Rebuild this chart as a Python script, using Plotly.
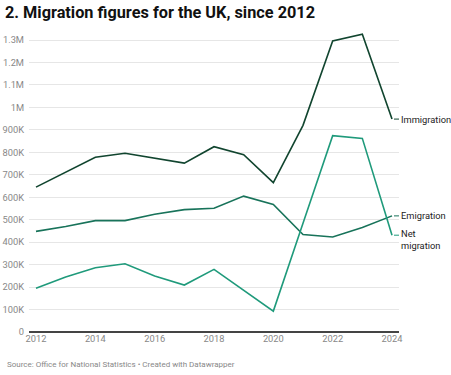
import plotly.graph_objects as go

years = list(range(2012, 2025))
immigration = [645000, 712000, 778000, 796000, 773000, 752000, 825000, 789000, 665000, 920000, 1296000, 1326000, 948000]
emigration = [448000, 470000, 496000, 496000, 524000, 545000, 551000, 605000, 568000, 434000, 423000, 465000, 517000]
net_migration = [195000, 245000, 286000, 304000, 249000, 209000, 279000, 184000, 93000, 484000, 874000, 862000, 431000]

y_tickvals = [i * 100000 for i in range(14)]
y_ticktext = ["0", "100K", "200K", "300K", "400K", "500K", "600K", "700K", "800K", "900K", "1M", "1.1M", "1.2M", "1.3M"]
x_tickvals = [2012, 2014, 2016, 2018, 2020, 2022, 2024]

c_imm = "#11452f"
c_emi = "#18735a"
c_net = "#1f9a7b"

fig = go.Figure()
fig.add_trace(go.Scatter(x=years, y=immigration, mode="lines", line=dict(color=c_imm, width=1.6), name="Immigration"))
fig.add_trace(go.Scatter(x=years, y=emigration, mode="lines", line=dict(color=c_emi, width=1.6), name="Emigration"))
fig.add_trace(go.Scatter(x=years, y=net_migration, mode="lines", line=dict(color=c_net, width=1.6), name="Net migration"))

font = "Roboto"
lab = dict(size=9.3, color="#222222")
leader = dict(showarrow=True, arrowhead=0, arrowwidth=1, standoff=2, ay=0)
fig.update_layout(
    width=451, height=375,
    margin=dict(l=29, r=52, t=30, b=43),
    paper_bgcolor="white", plot_bgcolor="white",
    showlegend=False,
    font=dict(family=font, size=9, color="#888888"),
    title=dict(text="<b>2. Migration figures for the UK, since 2012</b>", x=0.011, xanchor="left",
               y=0.968, yanchor="middle", font=dict(family=font, size=16.3, color="#111111")),
    xaxis=dict(range=[2011.764, 2024.236], tickvals=x_tickvals, ticktext=[str(v) for v in x_tickvals],
               showgrid=False, zeroline=False, showline=False, ticks="", automargin=False,
               tickfont=dict(size=9.3, color="#888888")),
    yaxis=dict(range=[0, 1344600], tickvals=y_tickvals, ticktext=y_ticktext, showgrid=True,
               gridcolor="#e6e6e6", gridwidth=1, zeroline=True, zerolinecolor="#444444", zerolinewidth=1.5,
               showline=False, ticks="", ticklabelstandoff=4, automargin=False,
               tickfont=dict(size=9.3, color="#888888")),
    annotations=[
        dict(text="Immigration", x=2024, y=immigration[-1], xref="x", yref="y", xanchor="left", yanchor="middle",
             ax=7, arrowcolor=c_imm, font=lab, **leader),
        dict(text="Emigration", x=2024, y=emigration[-1], xref="x", yref="y", xanchor="left", yanchor="middle",
             ax=7, arrowcolor=c_emi, font=lab, **leader),
        dict(text="", x=2024, y=net_migration[-1], xref="x", yref="y", xanchor="left", yanchor="middle",
             ax=7, arrowcolor=c_net, font=lab, **leader),
        dict(text="Net<br>migration", x=2024, y=net_migration[-1], xref="x", yref="y", xanchor="left", yanchor="top",
             xshift=7, yshift=9, align="left", showarrow=False, font=lab),
        dict(text="Source: Office for National Statistics • Created with Datawrapper", x=-0.065, y=-0.106,
             xref="paper", yref="paper", xanchor="left", yanchor="middle", showarrow=False,
             font=dict(size=8, color="#888888")),
    ],
)
fig.write_html("out.html", config={"displayModeBar": False}, post_script="document.body.style.margin='0';")
